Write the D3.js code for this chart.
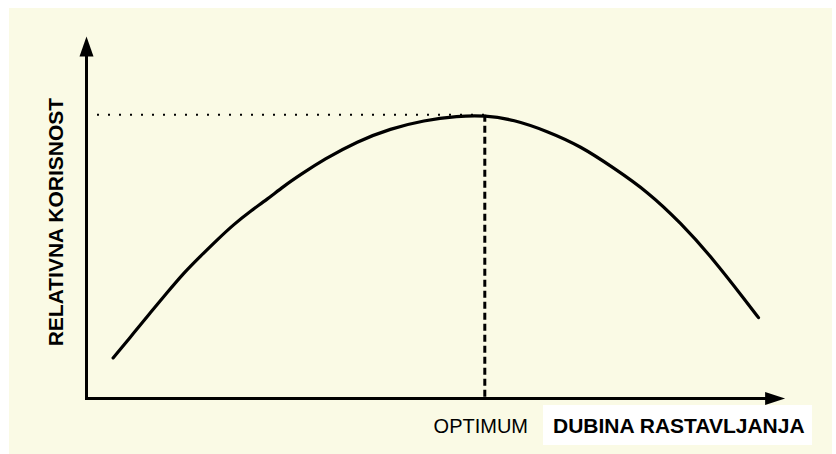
<!DOCTYPE html>
<html>
<head>
<meta charset="utf-8">
<script src="https://cdn.jsdelivr.net/npm/d3@7"></script>
<style>
  html, body { margin: 0; padding: 0; background: #ffffff; }
  svg { display: block; }
  text { font-family: "Liberation Sans", Arial, sans-serif; fill: #000; }
</style>
</head>
<body>
<div id="chart"></div>
<script>

// frame constants
const FRAME_WIDTH = 836;
const FRAME_HEIGHT = 454;
const ORIGIN = {x: 86.5, y: 398.5};

// curve data (depth of decomposition vs. relative usefulness)
const DEPTH = [3.8, 6.8, 9.1, 11.5, 13.9, 16.3, 18.7, 21.0, 23.4, 25.8, 28.2, 30.6,
               33.9, 38.7, 43.4, 48.2, 53.0, 56.9, 61.0, 65.8, 70.6, 75.3, 80.1,
               84.9, 89.6, 94.4, 96.0];
const USEFULNESS = [11.6, 18.8, 24.5, 30.2, 35.9, 40.7, 45.4, 49.7, 53.5, 56.9, 60.7, 64.0,
                    68.3, 73.5, 77.1, 79.5, 80.7, 80.9, 79.7, 76.4, 72.1, 65.9, 59.2,
                    50.2, 39.7, 27.3, 23.1];

// optimum point and axis extents
const OPTIMUM_X = 56.9;
const OPTIMUM_Y = 81.1;
const X_AXIS_MAX = 99.8;
const Y_AXIS_MAX = 103.4;

// labels
const X_LABEL = "DUBINA RASTAVLJANJA";
const Y_LABEL = "RELATIVNA KORISNOST";
const OPT_LABEL = "OPTIMUM";


const FRAME = d3.select("#chart")
                  .append("svg")
                    .attr("width", FRAME_WIDTH)
                    .attr("height", FRAME_HEIGHT);

// beige page background
FRAME.append("rect")
      .attr("x", 9)
      .attr("y", 8)
      .attr("width", 823)
      .attr("height", 446)
      .attr("fill", "#fafae5");

// scales
const X_SCALE = d3.scaleLinear()
                  .domain([0, 100])
                  .range([ORIGIN.x, ORIGIN.x + 700]);

const Y_SCALE = d3.scaleLinear()
                  .domain([0, 100])
                  .range([ORIGIN.y, ORIGIN.y - 350]);

const points = DEPTH.map((d, i) => [d, USEFULNESS[i]]);

// dotted line to the y axis at the optimum level
FRAME.append("line")
      .attr("x1", X_SCALE(1.5))
      .attr("x2", X_SCALE(OPTIMUM_X))
      .attr("y1", Y_SCALE(OPTIMUM_Y))
      .attr("y2", Y_SCALE(OPTIMUM_Y))
      .attr("stroke", "#000")
      .attr("stroke-width", 2)
      .attr("stroke-dasharray", "2,9");

// dashed line down to the x axis
FRAME.append("line")
      .attr("x1", X_SCALE(OPTIMUM_X))
      .attr("x2", X_SCALE(OPTIMUM_X))
      .attr("y1", Y_SCALE(OPTIMUM_Y))
      .attr("y2", Y_SCALE(0))
      .attr("stroke", "#000")
      .attr("stroke-width", 3)
      .attr("stroke-dasharray", "7,4");

// the curve
FRAME.append("path")
      .datum(points)
      .attr("d", d3.line()
                    .x((d) => { return X_SCALE(d[0]); })
                    .y((d) => { return Y_SCALE(d[1]); })
                    .curve(d3.curveBasis))
      .attr("fill", "none")
      .attr("stroke", "#000")
      .attr("stroke-width", 3.2)
      .attr("stroke-linecap", "round");

// axes with arrow heads
const xEnd = X_SCALE(X_AXIS_MAX);
const yEnd = Y_SCALE(Y_AXIS_MAX);

FRAME.append("path")
      .attr("d", "M" + ORIGIN.x + "," + (yEnd + 18) + "V" + ORIGIN.y + "H" + (xEnd - 18))
      .attr("fill", "none")
      .attr("stroke", "#000")
      .attr("stroke-width", 3);

FRAME.append("path")
      .attr("d", "M" + ORIGIN.x + "," + yEnd +
                 "L" + (ORIGIN.x + 7) + "," + (yEnd + 20) +
                 "L" + (ORIGIN.x - 7) + "," + (yEnd + 20) + "Z")
      .attr("fill", "#000");

FRAME.append("path")
      .attr("d", "M" + xEnd + "," + ORIGIN.y +
                 "L" + (xEnd - 20) + "," + (ORIGIN.y - 6.5) +
                 "L" + (xEnd - 20) + "," + (ORIGIN.y + 6.5) + "Z")
      .attr("fill", "#000");

// y axis title
FRAME.append("text")
      .attr("transform", "translate(63," + Y_SCALE(50.4) + ") rotate(-90)")
      .attr("text-anchor", "middle")
      .attr("font-size", "21px")
      .attr("font-weight", "bold")
      .text(Y_LABEL);

// optimum label
FRAME.append("text")
      .attr("x", X_SCALE(OPTIMUM_X) - 4)
      .attr("y", 432.5)
      .attr("text-anchor", "middle")
      .attr("font-size", "20px")
      .text(OPT_LABEL);

// x axis title on a white box
FRAME.append("rect")
      .attr("x", 543)
      .attr("y", 405)
      .attr("width", 269)
      .attr("height", 40)
      .attr("fill", "#ffffff");

FRAME.append("text")
      .attr("x", 553)
      .attr("y", 433)
      .attr("font-size", "21px")
      .attr("font-weight", "bold")
      .text(X_LABEL);

</script>
</body>
</html>
